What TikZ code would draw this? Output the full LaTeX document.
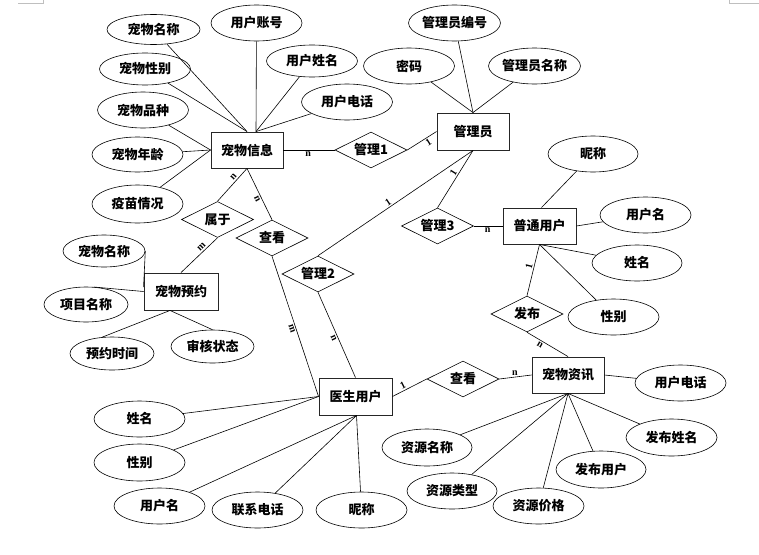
\documentclass[tikz,border=0pt]{standalone}
\usepackage{fontspec}
\newfontfamily\cjk{Noto Sans CJK SC}
\newfontfamily\lab{Liberation Serif}
\usetikzlibrary{shapes.geometric}
\begin{document}
\begin{tikzpicture}[x=1pt,y=-1pt,
  txt/.style={font=\cjk\bfseries\fontsize{13}{13}\selectfont},
  ent/.style={txt, draw=black!85, line width=0.9pt, rectangle, minimum width=72pt, minimum height=36pt, inner sep=0pt},
  rel/.style={txt, draw, line width=0.6pt, diamond, aspect=2, minimum width=72pt, minimum height=36pt, inner sep=0pt},
  attr/.style={txt, draw, line width=0.6pt, ellipse, minimum width=91pt, minimum height=36pt, inner sep=0pt},
  ln/.style={line width=0.6pt},
  card/.style={font=\lab\bfseries\fontsize{10}{10}\selectfont, inner sep=1.5pt},
  cornermark/.style={draw=black!25, line width=0.6pt}]
\useasboundingbox (0,0) rectangle (759,554);
% page corner marks
\draw[cornermark] (18,3) -- (43,3) -- (43,0);
\draw[cornermark] (759,3) -- (729,3) -- (729,0);

% entities
\node[ent] (cwxx) at (247,150) {宠物信息};
\node[ent, minimum height=37pt] (gly) at (473,131.5) {管理员};
\node[ent, minimum width=73pt] (ptyh) at (539.5,226) {普通用户};
\node[ent, minimum width=74pt, minimum height=37pt] (cwyy) at (181,291.5) {宠物预约};
\node[ent, minimum width=73pt, minimum height=37pt] (ysyh) at (355.5,396.5) {医生用户};
\node[ent] (cwzx) at (568,375) {宠物资讯};

% relationships
\node[rel] (gl1) at (371,150) {管理1};
\node[rel] (sy) at (217.5,219.5) {属于};
\node[rel] (ck1) at (272,238) {查看};
\node[rel] (gl2) at (318,274) {管理2};
\node[rel] (gl3) at (437.5,226) {管理3};
\node[rel] (fb) at (527,314) {发布};
\node[rel] (ck2) at (463,379) {查看};

% attributes of 宠物信息
\node[attr, minimum width=93pt, minimum height=30pt] (a1) at (153.5,29.5) {宠物名称};
\node[attr] (a2) at (256.5,23) {用户账号};
\node[attr, minimum height=32pt] (a3) at (312,61) {用户姓名};
\node[attr] (a4) at (347,102) {用户电话};
\node[attr, minimum height=32pt] (a5) at (145,69) {宠物性别};
\node[attr] (a6) at (143,110) {宠物品种};
\node[attr, minimum height=35pt] (a7) at (137.5,154.5) {宠物年龄};
\node[attr, minimum height=38pt] (a8) at (137.5,204) {疫苗情况};
% attributes of 管理员
\node[attr] (b1) at (454.5,23) {管理员编号};
\node[attr] (b2) at (409,66) {密码};
\node[attr] (b3) at (534.5,66) {管理员名称};
% attributes of 普通用户
\node[attr, minimum width=90pt] (c1) at (593,154) {昵称};
\node[attr] (c2) at (645.5,215) {用户名};
\node[attr, minimum width=90pt] (c3) at (637,263) {姓名};
\node[attr] (c4) at (613.5,317) {性别};
% attributes of 宠物预约
\node[attr, minimum width=82pt, minimum height=32pt] (d1) at (104,251) {宠物名称};
\node[attr, minimum width=84pt, minimum height=35pt] (d2) at (86,304.5) {项目名称};
\node[attr, minimum width=84pt, minimum height=33pt] (d3) at (112,353.5) {预约时间};
\node[attr, minimum width=83pt, minimum height=33pt] (d4) at (212.5,346.5) {审核状态};
% attributes of 医生用户
\node[attr] (e1) at (139.5,419) {姓名};
\node[attr, minimum height=37pt] (e2) at (139.5,462.5) {性别};
\node[attr] (e3) at (159.5,506) {用户名};
\node[attr] (e4) at (257.5,510) {联系电话};
\node[attr] (e5) at (361.5,510) {昵称};
% attributes of 宠物资讯
\node[attr] (f1) at (680.5,383) {用户电话};
\node[attr, minimum width=90pt, minimum height=37pt] (f2) at (427,447.5) {资源名称};
\node[attr, minimum width=90pt] (f3) at (452,491) {资源类型};
\node[attr] (f4) at (538.5,506) {资源价格};
\node[attr, minimum width=90pt, minimum height=37pt] (f5) at (601,469.5) {发布用户};
\node[attr, minimum height=37pt] (f6) at (671.5,437.5) {发布姓名};

% attribute connectors
\draw[ln] (a1) -- (cwxx.north);
\draw[ln] (a5) -- (cwxx.north);
\draw[ln] (a2) -- ([xshift=9pt]cwxx.north);
\draw[ln] (a3) -- ([xshift=9pt]cwxx.north);
\draw[ln] (a4) -- ([xshift=9pt]cwxx.north);
\draw[ln] (a6) -- (cwxx.west);
\draw[ln] (a7) -- (cwxx.west);
\draw[ln] (a8) -- (cwxx.west);
\draw[ln] (b1) -- (gly.north);
\draw[ln] (b2) -- (gly.north);
\draw[ln] (b3) -- (gly.north);
\draw[ln] (c1) -- ([xshift=2pt]ptyh.north);
\draw[ln] (c2) -- (ptyh.east);
\draw[ln] (c3) -- (ptyh.south);
\draw[ln] (c4) -- (ptyh.south);
\draw[ln] (d1.east) -- ([yshift=4.5pt]cwyy.west);
\draw[ln] (d2.65) -- (cwyy.west);
\draw[ln] (d3.121) -- ([xshift=-11pt]cwyy.south);
\draw[ln] (d4.north) -- ([xshift=-11pt]cwyy.south);
\draw[ln] (e1) -- (ysyh.west);
\draw[ln] (e2) -- (ysyh.west);
\draw[ln] (e3) -- ([xshift=1pt]ysyh.south);
\draw[ln] (e4) -- ([xshift=1pt]ysyh.south);
\draw[ln] (e5) -- ([xshift=1pt]ysyh.south);
\draw[ln] (cwzx.east) -- (f1);
\draw[ln] (f2) -- (cwzx.south);
\draw[ln] (f3) -- (cwzx.south);
\draw[ln] (f4) -- (cwzx.south);
\draw[ln] (f5) -- (cwzx.south);
\draw[ln] (f6) -- (cwzx.south);

% relationship connectors
\draw[ln] (cwxx.east) -- node[card, pos=.48, below] {n} (gl1.west);
\draw[ln] (gl1.east) -- node[card, pos=.63, sloped, below] {1} (gly.west);
\draw[ln] (gly.south) -- node[card, pos=.53, sloped, above] {1} (gl2.north);
\draw[ln] (gly.south) -- node[card, pos=.43, sloped, above] {1} (gl3.north);
\draw[ln] (gl3.east) -- node[card, pos=.48, below] {n} (ptyh.west);
\draw[ln] (ptyh.south) -- node[card, pos=.44, sloped, above] {1} (fb.north);
\draw[ln] (fb.south) -- node[card, pos=.37, sloped, below] {n} (cwzx.north);
\draw[ln] (ck2.east) -- node[card, pos=.48, above] {n} (cwzx.west);
\draw[ln] (ck2.west) -- node[card, pos=.63, sloped, above] {1} (ysyh.east);
\draw[ln] (gl2.south) -- node[card, pos=.52, sloped, below] {n} (ysyh.north);
\draw[ln] (ck1.south) -- node[card, pos=.51, sloped, below] {m} (ysyh.west);
\draw[ln] (cwxx.south) -- node[card, pos=.35, sloped, above] {n} (sy.north);
\draw[ln] (cwxx.south) -- node[card, pos=.56, sloped, below] {n} (ck1.north);
\draw[ln] (sy.south) -- node[card, pos=.36, sloped, above] {m} (cwyy.north);
\end{tikzpicture}
\end{document}
